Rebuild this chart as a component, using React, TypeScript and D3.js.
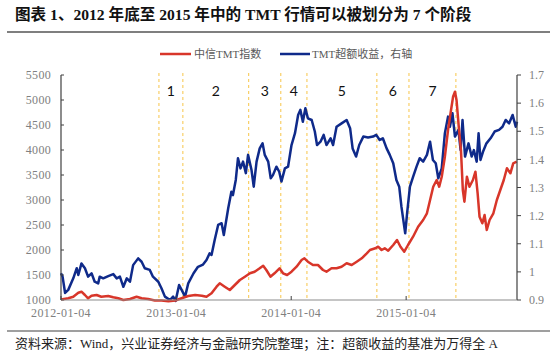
import React from "react";
import * as d3 from "d3";

const TITLE = "图表 1、2012 年底至 2015 年中的 TMT 行情可以被划分为 7 个阶段";
const SOURCE = "资料来源：Wind，兴业证券经济与金融研究院整理；注：超额收益的基准为万得全 A";
const legendNames = ["中信TMT指数", "TMT超额收益，右轴"];

const leftTicks = [1000, 1500, 2000, 2500, 3000, 3500, 4000, 4500, 5000, 5500];
const rightTicks = [0.9, 1.0, 1.1, 1.2, 1.3, 1.4, 1.5, 1.6, 1.7];
const rightTickLabels = ["0.9", "1", "1.1", "1.2", "1.3", "1.4", "1.5", "1.6", "1.7"];
const xTickDates = ["2012-01-04", "2013-01-04", "2014-01-04", "2015-01-04"];
const xDomain = ["2012-01-04", "2015-12-22"];

const phaseBounds = ["2012-11-10", "2013-01-25", "2013-08-22", "2013-12-02", "2014-02-23", "2014-10-03", "2015-01-13", "2015-06-11"];
const phaseLabels = ["1", "2", "3", "4", "5", "6", "7"];

const tmtIndex: [string, number][] = [
  ["2012-01-04", 1010], ["2012-01-27", 1034], ["2012-02-12", 1066], ["2012-02-28", 1146], ["2012-03-09", 1166],
  ["2012-03-20", 1100], ["2012-03-30", 1034], ["2012-04-10", 1086], ["2012-04-26", 1100], ["2012-05-11", 1066],
  ["2012-06-02", 1080], ["2012-06-18", 1054], ["2012-07-04", 1034], ["2012-07-20", 1000], ["2012-08-10", 1020],
  ["2012-08-31", 1066], ["2012-09-16", 1034], ["2012-10-07", 1020], ["2012-10-28", 990], ["2012-11-18", 988],
  ["2012-12-10", 975], ["2013-01-01", 990], ["2013-01-21", 1034], ["2013-02-11", 1080], ["2013-03-05", 1100],
  ["2013-03-26", 1086], ["2013-04-10", 1066], ["2013-04-26", 1134], ["2013-05-12", 1266], ["2013-05-22", 1334],
  ["2013-06-07", 1266], ["2013-06-23", 1200], ["2013-07-09", 1300], ["2013-07-25", 1400], ["2013-08-10", 1466],
  ["2013-08-26", 1534], ["2013-09-10", 1566], ["2013-09-26", 1634], ["2013-10-07", 1686], ["2013-10-17", 1600],
  ["2013-10-30", 1466], ["2013-11-12", 1534], ["2013-11-28", 1634], ["2013-12-09", 1534], ["2013-12-22", 1500],
  ["2014-01-05", 1566], ["2014-01-21", 1666], ["2014-02-06", 1800], ["2014-02-15", 1834], ["2014-02-26", 1766],
  ["2014-03-14", 1700], ["2014-03-30", 1700], ["2014-04-15", 1600], ["2014-04-26", 1566], ["2014-05-12", 1634],
  ["2014-05-28", 1634], ["2014-06-13", 1666], ["2014-06-29", 1734], ["2014-07-15", 1700], ["2014-07-31", 1766],
  ["2014-08-16", 1834], ["2014-09-01", 1934], ["2014-09-11", 2000], ["2014-09-28", 2034], ["2014-10-07", 2066],
  ["2014-10-18", 2000], ["2014-10-28", 2034], ["2014-11-08", 1986], ["2014-11-24", 2100], ["2014-12-06", 2200],
  ["2014-12-17", 2066], ["2014-12-29", 1966], ["2015-01-10", 2100], ["2015-01-26", 2266], ["2015-02-11", 2466],
  ["2015-02-27", 2600], ["2015-03-11", 2734], ["2015-03-21", 3000], ["2015-03-31", 3266], ["2015-04-11", 3400],
  ["2015-04-19", 3266], ["2015-04-27", 3466], ["2015-05-07", 3866], ["2015-05-17", 4400], ["2015-05-25", 4734],
  ["2015-06-02", 5066], ["2015-06-08", 5166], ["2015-06-13", 5000], ["2015-06-20", 4466], ["2015-06-27", 4000],
  ["2015-07-03", 3200], ["2015-07-08", 2966], ["2015-07-16", 3466], ["2015-07-24", 3266], ["2015-08-04", 3400],
  ["2015-08-12", 3566], ["2015-08-19", 3134], ["2015-08-25", 2666], ["2015-09-03", 2534], ["2015-09-10", 2700],
  ["2015-09-17", 2400], ["2015-09-26", 2600], ["2015-10-08", 2734], ["2015-10-19", 3000], ["2015-10-30", 3200],
  ["2015-11-10", 3400], ["2015-11-20", 3634], ["2015-12-01", 3534], ["2015-12-10", 3734], ["2015-12-21", 3766],
];

const excessReturn: [string, number][] = [
  ["2012-01-04", 0.995], ["2012-01-09", 0.983], ["2012-01-17", 0.925], ["2012-01-27", 0.936], ["2012-02-12", 0.977],
  ["2012-02-23", 1.013], ["2012-02-28", 0.989], ["2012-03-09", 1.030], ["2012-03-20", 1.013], ["2012-03-30", 0.983],
  ["2012-04-10", 0.995], ["2012-04-20", 0.965], ["2012-05-01", 0.959], ["2012-05-06", 0.983], ["2012-05-17", 0.977],
  ["2012-06-02", 0.985], ["2012-06-18", 0.992], ["2012-06-29", 0.977], ["2012-07-09", 0.983], ["2012-07-20", 0.947],
  ["2012-07-31", 0.977], ["2012-08-10", 0.965], ["2012-08-20", 1.024], ["2012-09-05", 1.048], ["2012-09-16", 1.036],
  ["2012-09-26", 1.013], ["2012-10-12", 1.007], ["2012-10-22", 0.983], ["2012-11-08", 0.965], ["2012-11-18", 0.942],
  ["2012-11-29", 0.912], ["2012-12-15", 0.900], ["2012-12-25", 0.912], ["2013-01-02", 0.897], ["2013-01-13", 0.953],
  ["2013-01-21", 0.936], ["2013-02-01", 0.912], ["2013-02-11", 0.959], ["2013-02-28", 0.995], ["2013-03-14", 1.018],
  ["2013-03-30", 1.026], ["2013-04-10", 1.042], ["2013-04-20", 1.066], ["2013-04-26", 1.060], ["2013-05-06", 1.113],
  ["2013-05-17", 1.167], ["2013-05-28", 1.173], ["2013-06-04", 1.131], ["2013-06-18", 1.226], ["2013-06-28", 1.285],
  ["2013-07-03", 1.273], ["2013-07-12", 1.327], ["2013-07-19", 1.404], ["2013-07-27", 1.368], ["2013-08-04", 1.392],
  ["2013-08-13", 1.351], ["2013-08-20", 1.416], ["2013-08-31", 1.362], ["2013-09-07", 1.303], ["2013-09-16", 1.392],
  ["2013-09-26", 1.439], ["2013-10-05", 1.457], ["2013-10-12", 1.416], ["2013-10-23", 1.392], ["2013-10-31", 1.333],
  ["2013-11-07", 1.344], ["2013-11-18", 1.374], ["2013-11-27", 1.356], ["2013-12-04", 1.321], ["2013-12-15", 1.368],
  ["2013-12-25", 1.374], ["2014-01-05", 1.451], ["2014-01-16", 1.493], ["2014-01-26", 1.558], ["2014-02-02", 1.576],
  ["2014-02-10", 1.534], ["2014-02-18", 1.582], ["2014-02-26", 1.546], ["2014-03-10", 1.540], ["2014-03-20", 1.499],
  ["2014-03-27", 1.451], ["2014-04-07", 1.463], ["2014-04-17", 1.487], ["2014-04-26", 1.451], ["2014-05-09", 1.475],
  ["2014-05-17", 1.451], ["2014-05-28", 1.516], ["2014-06-13", 1.528], ["2014-06-29", 1.540], ["2014-07-10", 1.511],
  ["2014-07-18", 1.439], ["2014-07-29", 1.410], ["2014-08-08", 1.451], ["2014-08-21", 1.481], ["2014-09-05", 1.478],
  ["2014-09-21", 1.481], ["2014-10-01", 1.487], ["2014-10-12", 1.469], ["2014-10-22", 1.475], ["2014-11-03", 1.439],
  ["2014-11-13", 1.416], ["2014-11-24", 1.386], ["2014-12-04", 1.327], ["2014-12-13", 1.303], ["2014-12-20", 1.232],
  ["2015-01-01", 1.137], ["2015-01-07", 1.208], ["2015-01-16", 1.303], ["2015-01-26", 1.338], ["2015-02-06", 1.374],
  ["2015-02-16", 1.404], ["2015-02-27", 1.392], ["2015-03-11", 1.416], ["2015-03-21", 1.463], ["2015-03-30", 1.398],
  ["2015-04-08", 1.386], ["2015-04-16", 1.333], ["2015-04-27", 1.368], ["2015-05-07", 1.493], ["2015-05-17", 1.552],
  ["2015-05-23", 1.516], ["2015-05-31", 1.564], ["2015-06-08", 1.481], ["2015-06-19", 1.505], ["2015-06-26", 1.433],
  ["2015-07-02", 1.540], ["2015-07-10", 1.410], ["2015-07-21", 1.457], ["2015-07-31", 1.410], ["2015-08-07", 1.433],
  ["2015-08-16", 1.392], ["2015-08-22", 1.493], ["2015-08-28", 1.398], ["2015-09-05", 1.427], ["2015-09-16", 1.457],
  ["2015-09-29", 1.475], ["2015-10-12", 1.499], ["2015-10-26", 1.505], ["2015-11-06", 1.516], ["2015-11-16", 1.540],
  ["2015-11-27", 1.528], ["2015-12-08", 1.558], ["2015-12-18", 1.516], ["2015-12-22", 1.534],
];

const parse = d3.utcParse("%Y-%m-%d");
const RED = "#d8362a";
const BLUE = "#0f2a8a";
const SERIF = "'Liberation Serif', 'Noto Sans CJK SC', serif";
const CJK = "'Liberation Serif', 'Noto Sans CJK SC', sans-serif";

export default function App() {
  const W = 550, H = 356;
  const left = 61, right = 517, top = 75, bottom = 300;
  const x = d3.scaleUtc().domain(xDomain.map((d) => parse(d) as Date)).range([left, right]);
  const yL = d3.scaleLinear().domain([1000, 5500]).range([bottom, top]);
  const yR = d3.scaleLinear().domain([0.9, 1.7]).range([bottom, top]);

  const redLine = d3.line<[string, number]>().x((d) => x(parse(d[0]) as Date)).y((d) => yL(d[1]));
  const blueLine = d3.line<[string, number]>().x((d) => x(parse(d[0]) as Date)).y((d) => yR(d[1]));

  const bx = phaseBounds.map((d) => x(parse(d) as Date));

  return (
    <svg width={W} height={H} style={{ position: "absolute", left: 0, top: 0, background: "#fff" }}>
      <text x={15} y={20} fontFamily={CJK} fontWeight="bold" fontSize={15.6} fill="#111">{TITLE}</text>
      <line x1={7} x2={550} y1={32} y2={32} stroke="#7f7f7f" strokeWidth={2} />

      {/* legend */}
      <line x1={160} x2={191} y1={54} y2={54} stroke={RED} strokeWidth={2.5} />
      <text x={194} y={58} fontFamily={CJK} fontSize={11} fill="#595959">{legendNames[0]}</text>
      <line x1={280} x2={310} y1={54} y2={54} stroke={BLUE} strokeWidth={2.5} />
      <text x={312} y={58} fontFamily={CJK} fontSize={11} fill="#595959">{legendNames[1]}</text>

      {/* phase boundaries */}
      {bx.map((px, i) => (
        <line key={i} x1={px} x2={px} y1={73} y2={bottom} stroke="#f7c548" strokeWidth={1} strokeDasharray="3,3" />
      ))}
      {phaseLabels.map((t, i) => (
        <text key={t} x={(bx[i] + bx[i + 1]) / 2} y={96} textAnchor="middle" fontFamily="Lato, 'Open Sans', sans-serif" fontSize={14} fill="#111">{t}</text>
      ))}

      {/* series */}
      <path d={blueLine(excessReturn) || ""} fill="none" stroke={BLUE} strokeWidth={2.5} strokeLinejoin="round" />
      <path d={redLine(tmtIndex) || ""} fill="none" stroke={RED} strokeWidth={2.5} strokeLinejoin="round" />

      {/* left axis */}
      <line x1={left} x2={left} y1={top} y2={bottom} stroke="#404040" strokeWidth={1.2} />
      {leftTicks.map((v) => (
        <g key={v}>
          <line x1={left} x2={left + 3} y1={yL(v)} y2={yL(v)} stroke="#404040" />
          <text x={51} y={yL(v)} dy="0.35em" textAnchor="end" fontFamily={SERIF} fontSize={12} fill="#808080" letterSpacing={0.3}>{v}</text>
        </g>
      ))}

      {/* right axis */}
      <line x1={right} x2={right} y1={top} y2={bottom} stroke="#404040" strokeWidth={1.2} />
      {rightTicks.map((v, i) => (
        <g key={v}>
          <line x1={right} x2={right + 4} y1={yR(v)} y2={yR(v)} stroke="#404040" />
          <text x={529} y={yR(v)} dy="0.35em" textAnchor="start" fontFamily={SERIF} fontSize={12} fill="#808080">{rightTickLabels[i]}</text>
        </g>
      ))}

      {/* bottom axis */}
      <line x1={left} x2={right} y1={bottom} y2={bottom} stroke="#8c8c8c" strokeWidth={1.2} />
      {xTickDates.map((d) => {
        const px = x(parse(d) as Date);
        return (
          <g key={d}>
            <line x1={px} x2={px} y1={bottom} y2={bottom - 4} stroke="#404040" />
            <text x={px} y={317} textAnchor="middle" fontFamily={SERIF} fontSize={12} fill="#808080" letterSpacing={0.4}>{d}</text>
          </g>
        );
      })}

      <line x1={7} x2={550} y1={331} y2={331} stroke="#7f7f7f" strokeWidth={1.5} />
      <text x={15} y={348} fontFamily={CJK} fontSize={13} fill="#222">{SOURCE}</text>
    </svg>
  );
}
